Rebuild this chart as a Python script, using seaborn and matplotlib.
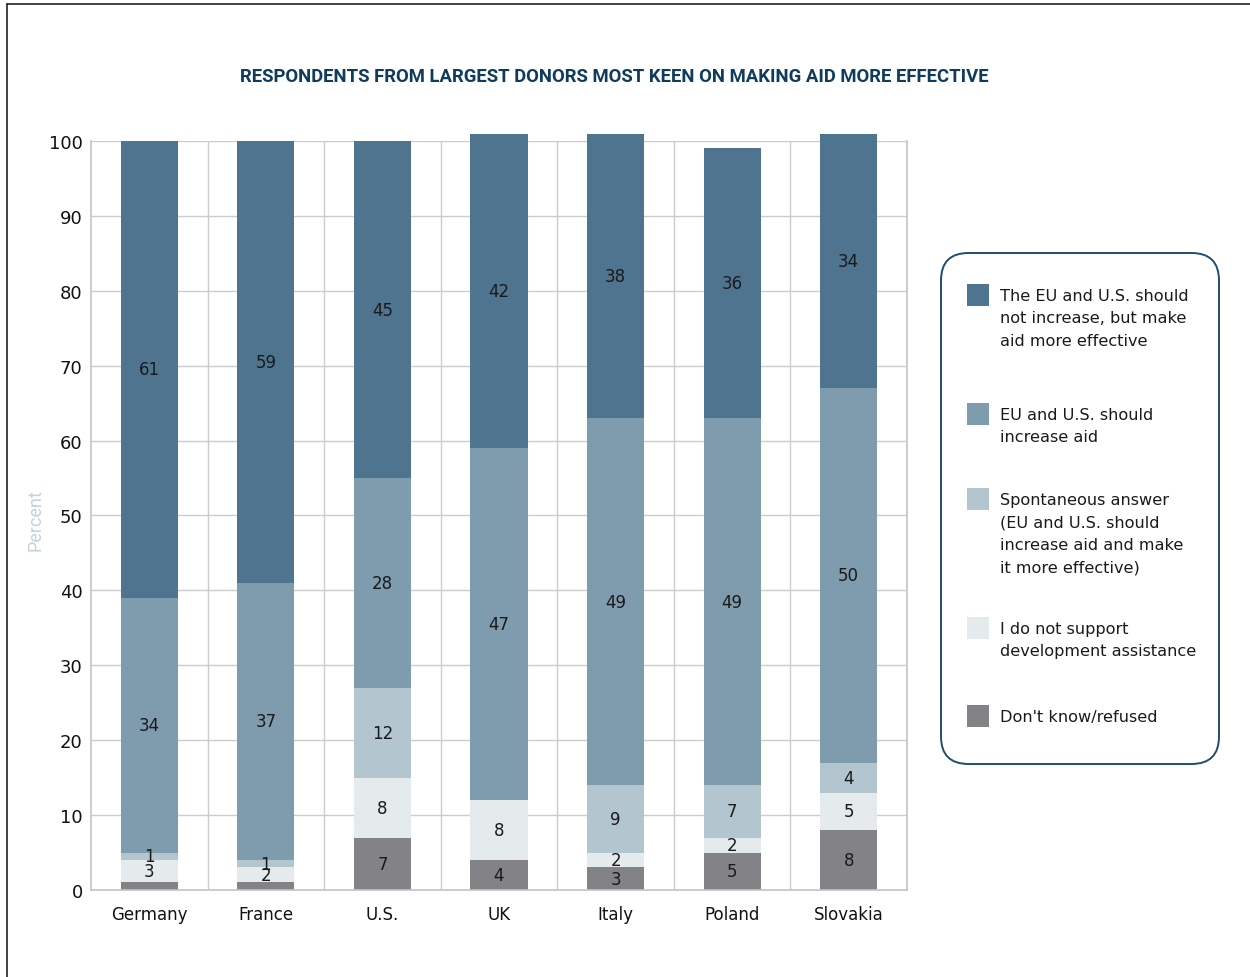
import matplotlib
matplotlib.use("Agg")
import matplotlib.pyplot as plt
from matplotlib.patches import FancyBboxPatch, Rectangle
from matplotlib.lines import Line2D
import numpy as np
import seaborn as sns

sns.set_theme(style="white")
plt.rcParams["font.family"] = ["DejaVu Sans"]

countries = ["Germany", "France", "U.S.", "UK", "Italy", "Poland", "Slovakia"]

# answer shares (percent), stacked bottom to top
dont_know = [1, 1, 7, 4, 3, 5, 8]
no_support = [3, 2, 8, 8, 2, 2, 5]
spontaneous = [1, 1, 12, 0, 9, 7, 4]
increase_aid = [34, 37, 28, 47, 49, 49, 50]
more_effective = [61, 59, 45, 42, 38, 36, 34]

series_labels = [
    "Don't know/refused",
    "I do not support\ndevelopment assistance",
    "Spontaneous answer\n(EU and U.S. should\nincrease aid and make\nit more effective)",
    "EU and U.S. should\nincrease aid",
    "The EU and U.S. should\nnot increase, but make\naid more effective",
]
series = [dont_know, no_support, spontaneous, increase_aid, more_effective]
colors = ["#838387", "#e5eaed", "#b3c5ce", "#7f9bae", "#4e7490"]

fig = plt.figure(figsize=(12.5, 9.78), dpi=100)
ax = fig.add_axes([0.0728, 0.0890, 0.6528, 0.7658])

values = np.array(series, dtype=float)
cum = np.cumsum(values, axis=0)
bottoms = cum - values

# stacked bars: draw cumulative totals from the top segment down
for i in range(len(series) - 1, -1, -1):
    sns.barplot(x=countries, y=cum[i], color=colors[i], saturation=1,
                width=0.49, errorbar=None, ax=ax, linewidth=0,
                clip_on=False, zorder=2)

# segment value labels
for i in range(len(series)):
    for j in range(len(countries)):
        v = values[i, j]
        if v <= 0 or (i == 0 and v < 2):
            continue
        ax.text(j, bottoms[i, j] + v / 2, f"{int(v)}", ha="center",
                va="center", fontsize=12, color="#1a1a1a", zorder=3)

ax.set_ylim(0, 100)
ax.set_xlim(-0.5, len(countries) - 0.5)
ax.set_yticks(np.arange(0, 101, 10))
ax.set_xticks(range(len(countries)))
ax.set_xticklabels(countries)
ax.set_xticks(np.arange(0.5, len(countries) - 1, 1), minor=True)
ax.set_axisbelow(True)
ax.grid(True, axis="y", which="major", color="#cccccc", linewidth=1)
ax.grid(True, axis="x", which="minor", color="#cccccc", linewidth=1)
ax.grid(False, axis="x", which="major")
ax.tick_params(axis="y", length=0, pad=6, labelsize=13, labelcolor="#111111")
ax.tick_params(axis="x", which="major", length=0, pad=11, labelsize=12,
               labelcolor="#111111")
ax.tick_params(axis="x", which="minor", length=0)
ax.set_xlabel("")
ax.set_ylabel("")
for side in ["left", "bottom", "right"]:
    ax.spines[side].set_visible(True)
    ax.spines[side].set_color("#c4c4c4")
    ax.spines[side].set_linewidth(1.2)
ax.spines["top"].set_visible(False)

fig.text(35 / 1250, 1 - 520 / 978, "Percent", rotation=90, ha="center",
         va="center", fontsize=13, color="#c3d2dc",
         family=["Roboto", "DejaVu Sans"])

fig.text(614 / 1250, 1 - 77 / 978,
         "RESPONDENTS FROM LARGEST DONORS MOST KEEN ON MAKING AID MORE EFFECTIVE",
         ha="center", va="center", fontsize=13.3, fontweight="bold",
         color="#0f3b5c", family=["Roboto", "DejaVu Sans"])

# page frame
W, H = 1250, 978
fig.add_artist(Line2D([7 / W, 1.0], [1 - 5 / H, 1 - 5 / H], color="#222222",
                      linewidth=1.2, transform=fig.transFigure))
fig.add_artist(Line2D([7 / W, 7 / W], [0, 1 - 5 / H], color="#222222",
                      linewidth=1.2, transform=fig.transFigure))

# legend panel
box = FancyBboxPatch((941 / W, 1 - 765 / H), (1219 - 941) / W, (765 - 254) / H,
                     boxstyle="round,pad=0,rounding_size=0.022",
                     transform=fig.transFigure, facecolor="white",
                     edgecolor="#1f4e6e", linewidth=1.4,
                     mutation_aspect=W / H)
fig.add_artist(box)

legend_top = [285, 404, 489, 618, 706]
order = [4, 3, 2, 1, 0]
for top, idx in zip(legend_top, order):
    fig.add_artist(Rectangle((967 / W, 1 - (top + 22) / H), 22 / W, 22 / H,
                             transform=fig.transFigure,
                             facecolor=colors[idx], edgecolor="none"))
    fig.text(1000 / W, 1 - (top + 4) / H, series_labels[idx], ha="left",
             va="top", fontsize=11.6, color="#1a1a1a", linespacing=1.62)

fig.savefig("out.png", dpi=100)
